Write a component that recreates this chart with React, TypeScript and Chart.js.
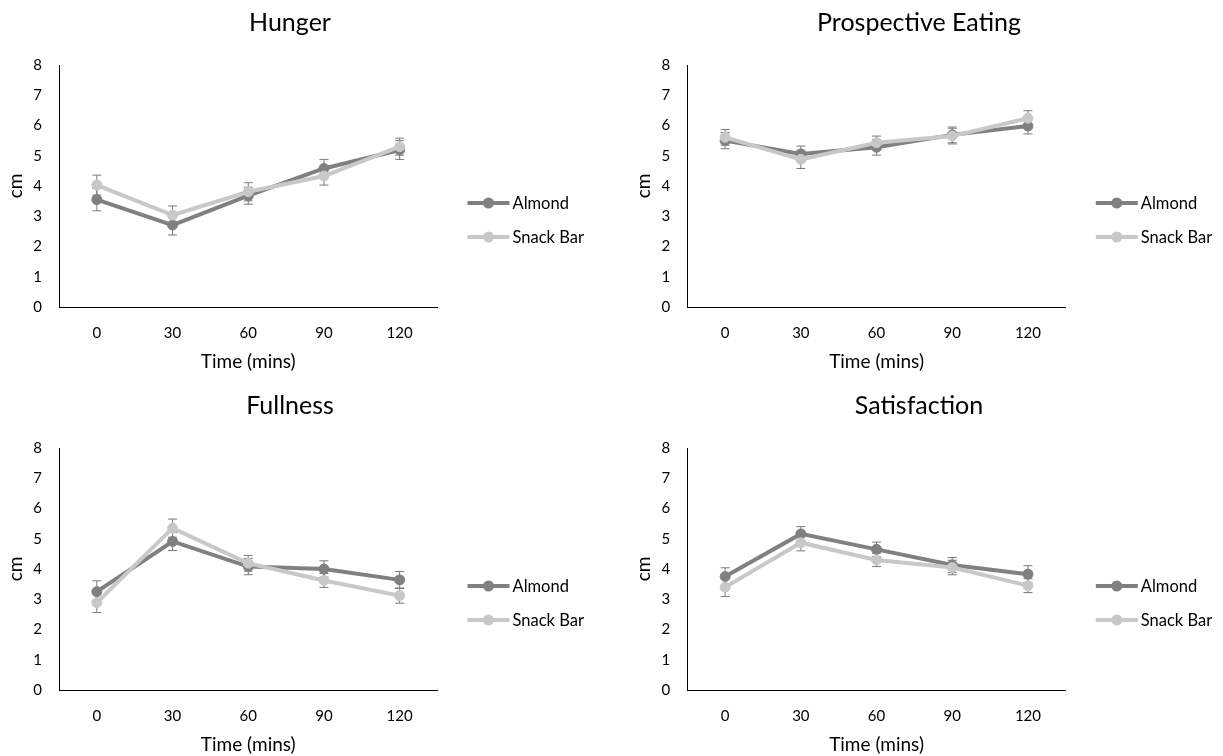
import React, { useEffect, useRef } from "react";
import { Chart, registerables } from "chart.js";

Chart.register(...registerables);

// ---- data ----
const timeLabels = ["0", "30", "60", "90", "120"];
const seriesNames = ["Almond", "Snack Bar"];
const yAxisTitle = "cm";
const xAxisTitle = "Time (mins)";

const hungerAlmond = [3.55, 2.71, 3.68, 4.58, 5.19];
const hungerAlmondErr = [0.37, 0.33, 0.28, 0.3, 0.31];
const hungerSnack = [4.03, 3.04, 3.81, 4.33, 5.3];
const hungerSnackErr = [0.33, 0.3, 0.3, 0.3, 0.28];

const prospectiveAlmond = [5.5, 5.06, 5.28, 5.69, 5.98];
const prospectiveAlmondErr = [0.27, 0.26, 0.26, 0.26, 0.26];
const prospectiveSnack = [5.61, 4.88, 5.43, 5.65, 6.24];
const prospectiveSnackErr = [0.26, 0.3, 0.22, 0.26, 0.25];

const fullnessAlmond = [3.25, 4.91, 4.08, 4.0, 3.64];
const fullnessAlmondErr = [0.36, 0.3, 0.27, 0.27, 0.28];
const fullnessSnack = [2.89, 5.35, 4.19, 3.62, 3.12];
const fullnessSnackErr = [0.33, 0.3, 0.26, 0.23, 0.25];

const satisfactionAlmond = [3.75, 5.16, 4.65, 4.13, 3.83];
const satisfactionAlmondErr = [0.29, 0.24, 0.24, 0.25, 0.28];
const satisfactionSnack = [3.4, 4.87, 4.3, 4.05, 3.45];
const satisfactionSnackErr = [0.31, 0.27, 0.22, 0.24, 0.23];

// ---- styles ----
const ALMOND_COLOR = "#808080";
const SNACK_COLOR = "#c8c8c8";
const ERR_COLOR = "#7a7a7a";
const TEXT_COLOR = "#000000";
const FONT = "Lato";

type PanelProps = {
  title: string;
  almond: number[];
  almondErr: number[];
  snack: number[];
  snackErr: number[];
  left: number;
  top: number;
  width: number;
  height: number;
  yWidth: number;
  yTitlePad: number;
  rightWidth: number;
};

function Panel(p: PanelProps) {
  const ref = useRef<HTMLCanvasElement>(null);

  useEffect(() => {
    if (!ref.current) return;

    const errPlugin = {
      id: "errorBars",
      beforeDatasetsDraw(chart: any) {
        const { ctx } = chart;
        const yScale = chart.scales.y;
        ctx.save();
        ctx.strokeStyle = ERR_COLOR;
        ctx.lineWidth = 1;
        chart.data.datasets.forEach((ds: any, i: number) => {
          const meta = chart.getDatasetMeta(i);
          ds.data.forEach((v: number, j: number) => {
            const e = ds.errors[j];
            const x = meta.data[j].x;
            const yt = yScale.getPixelForValue(v + e);
            const yb = yScale.getPixelForValue(v - e);
            ctx.beginPath();
            ctx.moveTo(x, yt);
            ctx.lineTo(x, yb);
            ctx.moveTo(x - 4.5, yt);
            ctx.lineTo(x + 4.5, yt);
            ctx.moveTo(x - 4.5, yb);
            ctx.lineTo(x + 4.5, yb);
            ctx.stroke();
          });
        });
        ctx.restore();
      },
    };

    const legendPlugin = {
      id: "sideLegend",
      afterDraw(chart: any) {
        const { ctx, chartArea } = chart;
        const x0 = chartArea.right + 30;
        const len = 42;
        const items = [
          { label: seriesNames[0], color: ALMOND_COLOR, dy: 138 },
          { label: seriesNames[1], color: SNACK_COLOR, dy: 172 },
        ];
        ctx.save();
        items.forEach((it) => {
          const y = chartArea.top + it.dy;
          ctx.strokeStyle = it.color;
          ctx.lineWidth = 4;
          ctx.beginPath();
          ctx.moveTo(x0, y);
          ctx.lineTo(x0 + len, y);
          ctx.stroke();
          ctx.fillStyle = it.color;
          ctx.beginPath();
          ctx.arc(x0 + len / 2, y, 5.5, 0, Math.PI * 2);
          ctx.fill();
          ctx.fillStyle = TEXT_COLOR;
          ctx.font = `16.5px ${FONT}`;
          ctx.textBaseline = "middle";
          ctx.textAlign = "left";
          ctx.fillText(it.label, x0 + len + 3, y + 1);
        });
        ctx.restore();
      },
    };

    const mkDs = (label: string, data: number[], errors: number[], color: string, order: number) => ({
      label,
      data,
      errors,
      borderColor: color,
      backgroundColor: color,
      pointBackgroundColor: color,
      pointBorderColor: color,
      pointRadius: 5,
      pointHoverRadius: 5,
      pointBorderWidth: 1,
      borderWidth: 4,
      tension: 0,
      fill: false,
      order,
    });

    const chart = new Chart(ref.current, {
      type: "line",
      data: {
        labels: timeLabels,
        datasets: [
          mkDs(seriesNames[0], p.almond, p.almondErr, ALMOND_COLOR, 1),
          mkDs(seriesNames[1], p.snack, p.snackErr, SNACK_COLOR, 0),
        ] as any,
      },
      options: {
        responsive: false,
        animation: false,
        events: [],
        layout: { padding: 0 },
        plugins: {
          legend: { display: false },
          tooltip: { enabled: false },
          title: {
            display: true,
            text: p.title,
            color: TEXT_COLOR,
            font: { family: FONT, size: 25, weight: "normal" },
            padding: { top: 8, bottom: 27 },
          },
        },
        scales: {
          x: {
            type: "category",
            offset: true,
            grid: { display: false, drawTicks: false },
            border: { display: true, color: "#000", width: 1 },
            ticks: { color: TEXT_COLOR, font: { family: FONT, size: 15 }, padding: 17, maxRotation: 0 },
            title: {
              display: true,
              text: xAxisTitle,
              color: TEXT_COLOR,
              font: { family: FONT, size: 19 },
              padding: { top: 0, bottom: 0 },
            },
            afterFit: (s: any) => {
              s.height = 66;
            },
          },
          y: {
            min: 0,
            max: 8,
            grid: { display: false, drawTicks: false },
            border: { display: true, color: "#000", width: 1 },
            ticks: { stepSize: 1, color: TEXT_COLOR, font: { family: FONT, size: 15 }, padding: 17 },
            title: {
              display: true,
              text: yAxisTitle,
              color: TEXT_COLOR,
              font: { family: FONT, size: 19 },
              padding: { top: p.yTitlePad, bottom: 0 },
            },
            afterFit: (s: any) => {
              s.width = p.yWidth;
            },
          },
          y2: {
            position: "right",
            display: true,
            grid: { display: false, drawTicks: false },
            border: { display: false },
            ticks: { display: false },
            afterFit: (s: any) => {
              s.width = p.rightWidth;
            },
          },
        },
      } as any,
      plugins: [errPlugin, legendPlugin],
    });

    return () => chart.destroy();
  }, []);

  return (
    <canvas
      ref={ref}
      width={p.width}
      height={p.height}
      style={{ position: "absolute", left: p.left, top: p.top, width: p.width, height: p.height }}
    />
  );
}

export default function App() {
  return (
    <div style={{ position: "absolute", left: 0, top: 0, width: 1223, height: 756, background: "#fff", overflow: "hidden" }}>
      <Panel
        title="Hunger"
        almond={hungerAlmond}
        almondErr={hungerAlmondErr}
        snack={hungerSnack}
        snackErr={hungerSnackErr}
        left={-10}
        top={0}
        width={600}
        height={373}
        yWidth={69}
        yTitlePad={14}
        rightWidth={152.5}
      />
      <Panel
        title="Prospective Eating"
        almond={prospectiveAlmond}
        almondErr={prospectiveAlmondErr}
        snack={prospectiveSnack}
        snackErr={prospectiveSnackErr}
        left={615}
        top={0}
        width={608}
        height={373}
        yWidth={72.3}
        yTitlePad={17.6}
        rightWidth={157.2}
      />
      <Panel
        title="Fullness"
        almond={fullnessAlmond}
        almondErr={fullnessAlmondErr}
        snack={fullnessSnack}
        snackErr={fullnessSnackErr}
        left={-10}
        top={383}
        width={600}
        height={373}
        yWidth={69}
        yTitlePad={14}
        rightWidth={152.5}
      />
      <Panel
        title="Satisfaction"
        almond={satisfactionAlmond}
        almondErr={satisfactionAlmondErr}
        snack={satisfactionSnack}
        snackErr={satisfactionSnackErr}
        left={615}
        top={383}
        width={608}
        height={373}
        yWidth={72.3}
        yTitlePad={17.6}
        rightWidth={157.2}
      />
    </div>
  );
}
